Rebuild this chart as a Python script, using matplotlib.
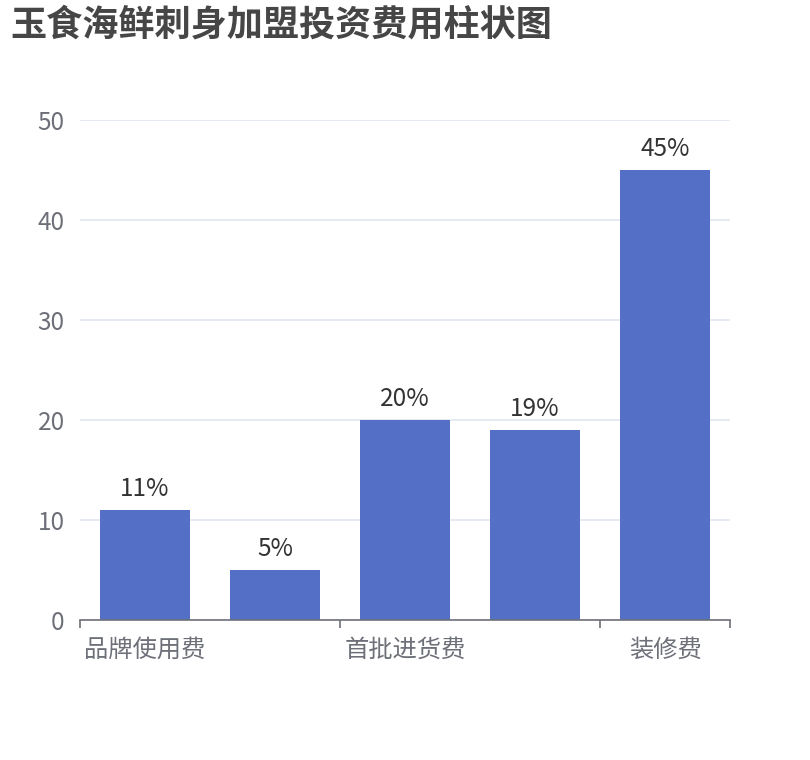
import numpy as np
import matplotlib
matplotlib.use('Agg')
import matplotlib.pyplot as plt

plt.rcParams['font.family'] = ['Noto Sans CJK SC', 'DejaVu Sans']

# Dados
titulo = '玉食海鲜刺身加盟投资费用柱状图'
valores = [11, 5, 20, 19, 45]
rotulos_barras = ['11%', '5%', '20%', '19%', '45%']
rotulos_x = ['品牌使用费', '首批进货费', '装修费']  # só de 2 em 2 aparecem
y_ticks = [0, 10, 20, 30, 40, 50]

cor_barra = '#5470c6'
cor_eixo = '#6E7079'
cor_grade = '#E0E6F1'

fig = plt.figure(figsize=(8.1, 7.6), dpi=100)
ax = fig.add_axes([80 / 810, 140 / 760, 650 / 810, 500 / 760])

x = np.arange(len(valores))
ax.bar(x, valores, width=0.69, color=cor_barra, zorder=3)

for xi, v, r in zip(x, valores, rotulos_barras):
    ax.annotate(r, (xi, v), xytext=(0, 6), textcoords='offset points',
                ha='center', va='bottom', fontsize=17.5, color='#333333', zorder=4)

ax.set_xlim(-0.5, len(valores) - 0.5)
ax.set_ylim(0, 50)

ax.set_yticks(y_ticks)
ax.set_yticklabels([str(t) for t in y_ticks])
ax.tick_params(axis='y', length=0, pad=11, labelsize=17.5, labelcolor=cor_eixo)
ax.grid(axis='y', color=cor_grade, linewidth=1.2, zorder=0)

# ticks nas fronteiras, rótulos no centro
ax.set_xticks([-0.5, 1.5, 3.5, 4.5])
ax.set_xticklabels([])
ax.tick_params(axis='x', which='major', length=6, width=1.2, color=cor_eixo)
ax.set_xticks(x[::2], minor=True)
ax.set_xticklabels(rotulos_x, minor=True)
ax.tick_params(axis='x', which='minor', length=0, pad=12, labelsize=17.5, labelcolor=cor_eixo)

for s in ['top', 'right', 'left']:
    ax.spines[s].set_visible(False)
ax.spines['bottom'].set_color(cor_eixo)
ax.spines['bottom'].set_linewidth(1.2)
ax.spines['bottom'].set_zorder(5)

fig.text(10 / 810, 1 - 7 / 760, titulo, ha='left', va='top',
         fontsize=26, fontweight='bold', color='#464646')

fig.savefig('out.png', dpi=100)
